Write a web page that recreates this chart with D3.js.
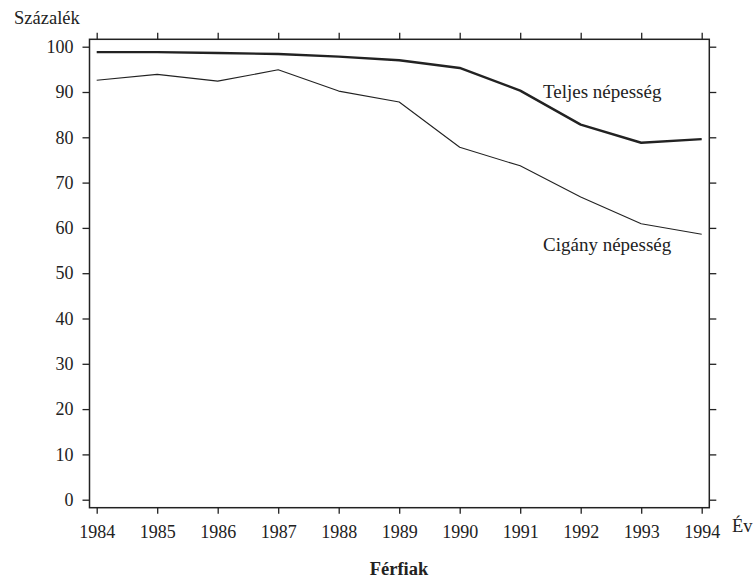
<!DOCTYPE html>
<html>
<head>
<meta charset="utf-8">
<script src="https://cdn.jsdelivr.net/npm/d3@7"></script>
<style>
  body { margin: 0; background: #fff; }
  .axis path { display: none; }
  .axis line { stroke: #222; stroke-width: 1.3; }
</style>
</head>
<body>
<svg width="756" height="582"></svg>
<script>
// years on the x axis
var years = [1984, 1985, 1986, 1987, 1988, 1989, 1990, 1991, 1992, 1993, 1994];
// percent values
var teljes = [98.8, 98.8, 98.6, 98.4, 97.8, 97.0, 95.3, 90.3, 82.8, 78.8, 79.6];
var cigany = [92.6, 93.9, 92.4, 94.9, 90.2, 87.8, 77.8, 73.7, 66.8, 60.9, 58.6];
var yTicks = [0, 10, 20, 30, 40, 50, 60, 70, 80, 90, 100];
var seriesNames = ["Teljes népesség", "Cigány népesség"];

var serif = "'Liberation Serif', 'Times New Roman', Times, serif";

var svg = d3.select("svg");

var frame = {left: 89.5, right: 709.3, top: 39.3, bottom: 507.7};

var x = d3.scaleLinear().domain([1984, 1994]).range([96.7, 701.7]);
var y = d3.scaleLinear().domain([0, 100]).range([499.7, 46.7]);

function styleTicks(g) {
  g.attr("font-family", serif).attr("font-size", 18);
  g.selectAll("text").attr("fill", "#222");
}

// left axis with labels
svg.append("g")
  .attr("class", "axis")
  .attr("transform", "translate(" + frame.left + ",0)")
  .call(d3.axisLeft(y).tickValues(yTicks).tickSize(7).tickPadding(9))
  .call(styleTicks);

// right axis, ticks only
svg.append("g")
  .attr("class", "axis")
  .attr("transform", "translate(" + frame.right + ",0)")
  .call(d3.axisRight(y).tickValues(yTicks).tickSize(7).tickFormat(""));

// top axis, ticks only
svg.append("g")
  .attr("class", "axis")
  .attr("transform", "translate(0," + frame.top + ")")
  .call(d3.axisTop(x).tickValues(years).tickSize(6.5).tickFormat(""));

// bottom axis with year labels
svg.append("g")
  .attr("class", "axis")
  .attr("transform", "translate(0," + frame.bottom + ")")
  .call(d3.axisBottom(x).tickValues(years).tickSize(6).tickPadding(12).tickFormat(d3.format("d")))
  .call(styleTicks);

// plot frame
svg.append("rect")
  .attr("x", frame.left)
  .attr("y", frame.top)
  .attr("width", frame.right - frame.left)
  .attr("height", frame.bottom - frame.top)
  .attr("fill", "none")
  .attr("stroke", "#222")
  .attr("stroke-width", 1.5);

var line = d3.line()
  .x(function(d, i) { return x(years[i]); })
  .y(function(d) { return y(d); });

svg.append("path")
  .datum(cigany)
  .attr("d", line)
  .attr("fill", "none")
  .attr("stroke", "#222")
  .attr("stroke-width", 1.1)
  .attr("stroke-linejoin", "round");

svg.append("path")
  .datum(teljes)
  .attr("d", line)
  .attr("fill", "none")
  .attr("stroke", "#222")
  .attr("stroke-width", 2.4)
  .attr("stroke-linejoin", "round");

function label(xp, yp, txt, size) {
  return svg.append("text")
    .attr("x", xp).attr("y", yp)
    .attr("font-family", serif)
    .attr("font-size", size)
    .attr("fill", "#222")
    .text(txt);
}

// series labels
label(543, 97.7, seriesNames[0], 19);
label(543, 251, seriesNames[1], 19);

// axis titles
label(14, 24, "Százalék", 18.5);
label(732, 532, "Év", 18.5);
label(399, 575, "Férfiak", 18.5)
  .attr("text-anchor", "middle")
  .attr("font-weight", "bold");
</script>
</body>
</html>
